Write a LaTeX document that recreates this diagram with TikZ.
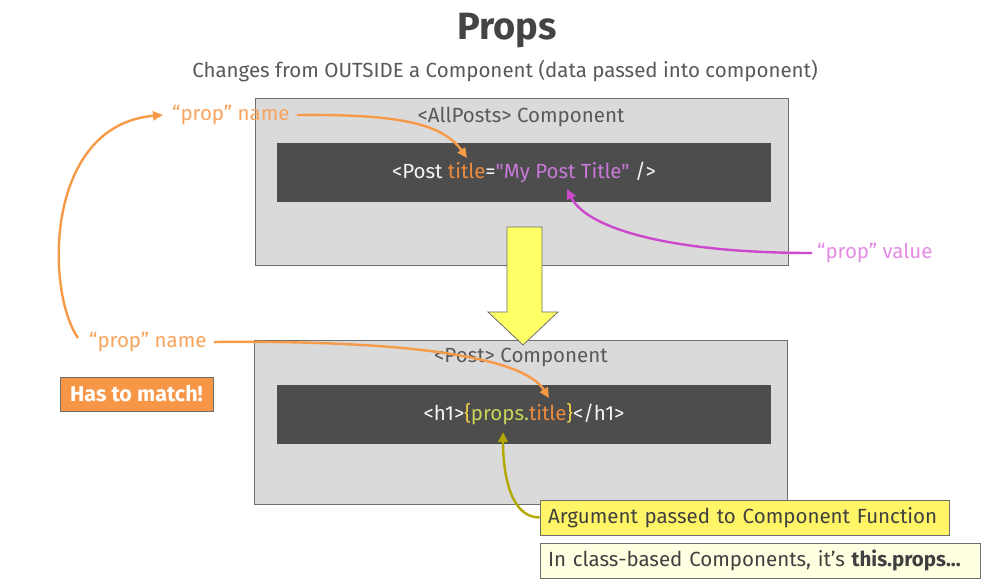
\documentclass[tikz,border=0pt]{standalone}
\usepackage{fontspec}
\setmainfont{Fira Sans}
\newfontfamily\codefont{Fira Sans}
\usetikzlibrary{arrows.meta}
\definecolor{titlegray}{HTML}{444444}
\definecolor{subgray}{HTML}{595959}
\definecolor{boxfill}{HTML}{DADADA}
\definecolor{boxline}{HTML}{6E6E6E}
\definecolor{codebg}{HTML}{4D4D4D}
\definecolor{codewhite}{HTML}{F2F4F8}
\definecolor{attrorange}{HTML}{EC8A3C}
\definecolor{valpurple}{HTML}{C878D8}
\definecolor{propgreen}{HTML}{C8D458}
\definecolor{braceyellow}{HTML}{F2D048}
\definecolor{lblorange}{HTML}{F8A45C}
\definecolor{arrorange}{HTML}{F79A48}
\definecolor{lblpurple}{HTML}{E48CE4}
\definecolor{arrpurple}{HTML}{CC48CC}
\definecolor{arrolive}{HTML}{B2A800}
\definecolor{matchorange}{HTML}{F79646}
\definecolor{yelbox}{HTML}{FFF566}
\definecolor{paleyel}{HTML}{FFFFE2}
\definecolor{bigyellow}{HTML}{FFFF66}
\definecolor{darktext}{HTML}{404040}
\newcommand{\bodysize}{\fontsize{20.5}{23}\selectfont}
\tikzset{
  compbox/.style={draw=boxline, line width=0.8pt, fill=boxfill, minimum width=533pt, inner sep=0pt},
  codebox/.style={fill=codebg, minimum width=494pt, minimum height=59pt, inner sep=0pt, font=\codefont\bodysize, text=codewhite},
  lbl/.style={font=\bodysize, inner sep=1pt},
  comptitle/.style={font=\bodysize, text=subgray, inner sep=0pt},
  conn/.style={line width=2.4pt, -{Triangle[length=10pt,width=9pt]}},
  notebox/.style={draw=boxline, line width=0.8pt, minimum height=35pt, inner sep=0pt, font=\bodysize, text=darktext}
}
\begin{document}
\begin{tikzpicture}[x=1pt,y=-1pt]
\useasboundingbox[fill=white] (0,0) rectangle (994,586);

% title
\node[font=\fontsize{38}{42}\selectfont\bfseries, text=titlegray] (title) at (507,31) {Props};
\node[font=\bodysize, text=subgray] (sub) at (505,71) {Changes from OUTSIDE a Component (data passed into component)};

% component boxes
\node[compbox, minimum height=167pt] (allposts) at (521.5,181.5) {};
\node[comptitle] (allpoststitle) at (521,117) {<AllPosts> Component};
\node[codebox] (code1) at (524,172.5) {<Post \textcolor{attrorange}{title}=\textcolor{valpurple}{"My Post Title"} />};

\node[compbox, minimum height=164pt] (postbox) at (521,422) {};
\node[comptitle] (posttitle) at (521,357) {<Post> Component};
\node[codebox] (code2) at (524,414) {<h1>\textcolor{braceyellow}{\{}\textcolor{propgreen}{props.}\textcolor{attrorange}{title}\textcolor{braceyellow}{\}}</h1>};

% big yellow arrow
\draw[draw=boxline, line width=0.8pt, fill=bigyellow, line join=miter]
  (507,227) -- (542,227) -- (542,312) -- (558,312) -- (523,345) -- (488,312) -- (507,312) -- cycle;

% labels
\node[lbl, text=lblorange, anchor=west] (pn1) at (171,115) {“prop” name};
\node[lbl, text=lblorange, anchor=west] (pn2) at (88,342) {“prop” name};
\node[lbl, text=lblpurple, anchor=west] (pv) at (816,253) {“prop” value};

\node[draw=boxline, line width=0.8pt, fill=matchorange, text=white, font=\fontsize{21.5}{24}\selectfont\bfseries, minimum width=153pt, minimum height=34pt, inner sep=0pt] (match) at (136.5,394) {Has to match!};

\node[notebox, fill=yelbox, minimum width=409pt, text width=393pt, align=left] (arg) at (744.5,517.5) {Argument passed to Component Function};
\node[notebox, fill=paleyel, minimum width=440pt, text width=424pt, align=left] (cls) at (760,560.5) {In class-based Components, it’s \textbf{this.props...}};

% target coordinates
\coordinate (t1) at (467,158);
\coordinate (t2) at (549,398);
\coordinate (t3) at (567,189);
\coordinate (t4) at (503,432);
\coordinate (s0) at (78,338);

% connectors
\draw[conn, draw=arrorange] ([xshift=6pt]pn1.east) .. controls +(100,-1) and +(-25,-35) .. (t1);
\draw[conn, draw=arrorange] ([xshift=6pt]pn2.east) .. controls +(200,-2) and +(-25,-40) .. (t2);
\draw[conn, draw=arrorange] (s0) .. controls (45,290) and (45,125) .. ([xshift=-8pt]pn1.west);
\draw[conn, draw=arrpurple] ([xshift=-4pt]pv.west) .. controls +(-140,0) and +(20,40) .. (t3);
\draw[conn, draw=arrolive] (arg.west) .. controls +(-30,0) and +(0,40) .. (t4);
\end{tikzpicture}
\end{document}
